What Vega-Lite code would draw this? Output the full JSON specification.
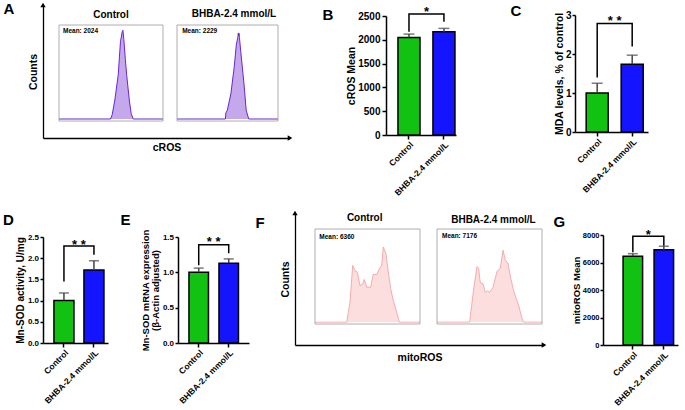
{
"$schema": "https://vega.github.io/schema/vega-lite/v6.json",
"padding": {"left": 2, "top": 1, "right": 2, "bottom": 0},
"config": {
  "font": "Liberation Sans",
  "view": {"stroke": null},
  "axis": {"grid": false, "labelOverlap": false, "tickCount": 12, "domainColor": "black", "domainWidth": 1.5, "tickColor": "black", "tickWidth": 1.5, "tickSize": 4, "labelColor": "black", "labelFontSize": 10, "labelFontWeight": "bold", "titleColor": "black", "titleFontSize": 10.5, "titleFontWeight": "bold", "labelPadding": 2, "titlePadding": 4},
  "axisX": {"labelFontSize": 8.5, "labelPadding": 1},
  "title": {"fontSize": 15, "fontWeight": "bold", "anchor": "start", "frame": "bounds", "color": "black"}
},
"datasets": {
  "histA1": [{"v":0.52,"n":0},{"v":288,"n":0},{"v":355,"n":20},{"v":490,"n":86},{"v":741,"n":200},{"v":977,"n":350},{"v":1202,"n":395},{"v":1318,"n":402},{"v":1479,"n":360},{"v":1778,"n":270},{"v":2089,"n":200},{"v":2884,"n":86},{"v":3631,"n":25},{"v":4677,"n":0},{"v":180000,"n":0}],
  "histA2": [{"v":0.52,"n":0},{"v":234,"n":0},{"v":250,"n":28},{"v":300,"n":40},{"v":468,"n":114},{"v":708,"n":233},{"v":933,"n":336},{"v":1122,"n":370},{"v":1202,"n":390},{"v":1260,"n":378},{"v":1318,"n":388},{"v":1380,"n":370},{"v":1622,"n":307},{"v":2455,"n":159},{"v":3236,"n":40},{"v":4467,"n":0},{"v":180000,"n":0}],
  "histF1": [{"v":-1700,"n":0},{"v":302,"n":0},{"v":488,"n":10},{"v":682,"n":28.3},{"v":885,"n":25.8},{"v":1129,"n":25},{"v":1479,"n":18.3},{"v":1916,"n":19},{"v":2222,"n":21.3},{"v":2768,"n":17.5},{"v":3947,"n":17.5},{"v":4935,"n":24},{"v":6600,"n":23.7},{"v":8220,"n":26.7},{"v":10060,"n":28.3},{"v":11480,"n":37.5},{"v":14360,"n":34},{"v":17380,"n":25},{"v":21170,"n":16.7},{"v":26160,"n":10.8},{"v":34580,"n":5},{"v":42710,"n":0},{"v":230000,"n":0}],
  "histF2": [{"v":-1700,"n":0},{"v":348,"n":0},{"v":605,"n":14},{"v":885,"n":23.6},{"v":1050,"n":22.9},{"v":1249,"n":16.7},{"v":1628,"n":16.3},{"v":2027,"n":12.6},{"v":2504,"n":13.3},{"v":2996,"n":12.6},{"v":4047,"n":14.7},{"v":5716,"n":21.6},{"v":7570,"n":22.9},{"v":9480,"n":30.5},{"v":11480,"n":26.3},{"v":14360,"n":25},{"v":17380,"n":19.5},{"v":22800,"n":13.3},{"v":28460,"n":9.9},{"v":34270,"n":7.2},{"v":45260,"n":1.6},{"v":51540,"n":0},{"v":230000,"n":0}],
  "barB": [{"group":"Control","mean":2050,"hi":2120},{"group":"BHBA-2.4 mmol/L","mean":2170,"hi":2240}],
  "brB": [{"group":"Control","v":2170,"o":1},{"group":"Control","v":2542,"o":2},{"group":"BHBA-2.4 mmol/L","v":2542,"o":3},{"group":"BHBA-2.4 mmol/L","v":2380,"o":4}],
  "stB": [{"group":"Control","v":2576,"label":"*"}],
  "barC": [{"group":"Control","mean":1.0,"hi":1.25},{"group":"BHBA-2.4 mmol/L","mean":1.74,"hi":1.97}],
  "brC": [{"group":"Control","v":1.4,"o":1},{"group":"Control","v":2.78,"o":2},{"group":"BHBA-2.4 mmol/L","v":2.78,"o":3},{"group":"BHBA-2.4 mmol/L","v":2.19,"o":4}],
  "stC": [{"group":"Control","v":2.84,"label":"* *"}],
  "barD": [{"group":"Control","mean":1.0,"hi":1.18},{"group":"BHBA-2.4 mmol/L","mean":1.72,"hi":1.94}],
  "brD": [{"group":"Control","v":1.45,"o":1},{"group":"Control","v":2.29,"o":2},{"group":"BHBA-2.4 mmol/L","v":2.29,"o":3},{"group":"BHBA-2.4 mmol/L","v":2.08,"o":4}],
  "stD": [{"group":"Control","v":2.31,"label":"* *"}],
  "barE": [{"group":"Control","mean":1.0,"hi":1.06},{"group":"BHBA-2.4 mmol/L","mean":1.13,"hi":1.19}],
  "brE": [{"group":"Control","v":1.1,"o":1},{"group":"Control","v":1.39,"o":2},{"group":"BHBA-2.4 mmol/L","v":1.39,"o":3},{"group":"BHBA-2.4 mmol/L","v":1.27,"o":4}],
  "stE": [{"group":"Control","v":1.43,"label":"* *"}],
  "barG": [{"group":"Control","mean":6450,"hi":6640},{"group":"BHBA-2.4 mmol/L","mean":6920,"hi":7180}],
  "brG": [{"group":"Control","v":6740,"o":1},{"group":"Control","v":7905,"o":2},{"group":"BHBA-2.4 mmol/L","v":7905,"o":3},{"group":"BHBA-2.4 mmol/L","v":7222,"o":4}],
  "stG": [{"group":"Control","v":8000,"label":"*"}]
},
"columns": 1,
"align": "none",
"spacing": 13,
"concat": [
{
 "columns": 2, "align": "none",
 "spacing": 29,
 "concat": [
  {
   "title": {"text": "A", "dx": -24.5, "offset": -14},
   "width": 247, "height": 133,
   "resolve": {"scale": {"x": "independent", "y": "independent"}, "axis": {"x": "independent", "y": "independent"}},
   "layer": [
    {
     "data": {"values": [{}]},
     "layer": [
      {"mark": {"type": "point", "shape": "triangle-up", "filled": true, "color": "black", "size": 28, "opacity": 1},
       "encoding": {
        "x": {"datum": 0, "type": "quantitative", "scale": {"domain": [0, 1], "nice": false, "zero": false}, "axis": {"orient": "bottom", "ticks": false, "labels": false, "domainWidth": 1.3, "title": "cROS", "titlePadding": 4}},
        "y": {"datum": 1, "type": "quantitative", "scale": {"domain": [0, 1], "nice": false, "zero": false}, "axis": {"orient": "left", "ticks": false, "labels": false, "domainWidth": 1.3, "title": "Counts", "titlePadding": 5}}
       }},
      {"mark": {"type": "point", "shape": "triangle-right", "filled": true, "color": "black", "size": 28, "opacity": 1},
       "encoding": {"x": {"datum": 1, "type": "quantitative"}, "y": {"datum": 0, "type": "quantitative"}}}
     ]
    },
    {
     "layer": [
      {"data": {"name": "histA1"},
       "mark": {"type": "area", "color": "#ad82e4", "line": {"color": "#6a26d4", "strokeWidth": 1}},
       "encoding": {
        "x": {"field": "v", "type": "quantitative", "scale": {"type": "log", "domain": [0.52, 180000], "range": [16, 120], "nice": false}, "axis": {"orient": "bottom", "offset": -17, "values": [1,10,100,1000,10000,100000], "tickCount": 12, "labelExpr": "datum.value == 1 ? '10⁰' : datum.value == 10 ? '10¹' : datum.value == 100 ? '10²' : datum.value == 1000 ? '10³' : datum.value == 10000 ? '10⁴' : '10⁵'", "labelOverlap": false, "labelFontSize": 5, "labelFontWeight": "normal", "labelColor": "#666", "tickSize": 2, "tickWidth": 0.6, "tickColor": "#777", "domain": false, "title": null, "labelPadding": 1}},
        "y": {"field": "n", "type": "quantitative", "scale": {"domain": [-9, 426], "range": [116, 20], "nice": false, "zero": false}, "axis": {"orient": "left", "offset": -16, "values": [0,100,200,300,400], "format": "d", "tickCount": 12, "labelOverlap": false, "labelFontSize": 5, "labelFontWeight": "normal", "labelColor": "#666", "tickSize": 2, "tickWidth": 0.6, "tickColor": "#777", "domain": false, "title": null, "labelPadding": 1}}
       }},
      {"data": {"values": [{}]},
       "mark": {"type": "rect", "fillOpacity": 0, "stroke": "#9a9a9a", "strokeWidth": 0.8},
       "encoding": {"x": {"datum": 0.52, "type": "quantitative", "axis": null}, "x2": {"datum": 180000}, "y": {"datum": -9, "type": "quantitative", "axis": null}, "y2": {"datum": 426}}},
      {"data": {"values": [{}]},
       "mark": {"type": "text", "text": "Mean: 2024", "fontSize": 6.5, "fontWeight": "bold", "align": "left", "baseline": "middle"},
       "encoding": {"x": {"datum": 0.85, "type": "quantitative", "axis": null}, "y": {"datum": 399, "type": "quantitative", "axis": null}}},
      {"data": {"values": [{}]},
       "mark": {"type": "text", "text": "Control", "fontSize": 10, "fontWeight": "bold", "align": "center", "baseline": "middle"},
       "encoding": {"x": {"datum": 305, "type": "quantitative", "axis": null}, "y": {"datum": 471, "type": "quantitative", "axis": null}}}
     ]
    },
    {
     "layer": [
      {"data": {"name": "histA2"},
       "mark": {"type": "area", "color": "#ad82e4", "line": {"color": "#6a26d4", "strokeWidth": 1}},
       "encoding": {
        "x": {"field": "v", "type": "quantitative", "scale": {"type": "log", "domain": [0.52, 180000], "range": [134, 235], "nice": false}, "axis": {"orient": "bottom", "offset": -17, "values": [1,10,100,1000,10000,100000], "tickCount": 12, "labelExpr": "datum.value == 1 ? '10⁰' : datum.value == 10 ? '10¹' : datum.value == 100 ? '10²' : datum.value == 1000 ? '10³' : datum.value == 10000 ? '10⁴' : '10⁵'", "labelOverlap": false, "labelFontSize": 5, "labelFontWeight": "normal", "labelColor": "#666", "tickSize": 2, "tickWidth": 0.6, "tickColor": "#777", "domain": false, "title": null, "labelPadding": 1}},
        "y": {"field": "n", "type": "quantitative", "scale": {"domain": [-9, 426], "range": [116, 20], "nice": false, "zero": false}, "axis": {"orient": "left", "offset": -134, "values": [0,100,200,300,400], "format": "d", "tickCount": 12, "labelOverlap": false, "labelFontSize": 5, "labelFontWeight": "normal", "labelColor": "#666", "tickSize": 2, "tickWidth": 0.6, "tickColor": "#777", "domain": false, "title": null, "labelPadding": 1}}
       }},
      {"data": {"values": [{}]},
       "mark": {"type": "rect", "fillOpacity": 0, "stroke": "#9a9a9a", "strokeWidth": 0.8},
       "encoding": {"x": {"datum": 0.52, "type": "quantitative", "axis": null}, "x2": {"datum": 180000}, "y": {"datum": -9, "type": "quantitative", "axis": null}, "y2": {"datum": 426}}},
      {"data": {"values": [{}]},
       "mark": {"type": "text", "text": "Mean: 2229", "fontSize": 6.5, "fontWeight": "bold", "align": "left", "baseline": "middle"},
       "encoding": {"x": {"datum": 1.0, "type": "quantitative", "axis": null}, "y": {"datum": 399, "type": "quantitative", "axis": null}}},
      {"data": {"values": [{}]},
       "mark": {"type": "text", "text": "BHBA-2.4 mmol/L", "fontSize": 10, "fontWeight": "bold", "align": "center", "baseline": "middle"},
       "encoding": {"x": {"datum": 690, "type": "quantitative", "axis": null}, "y": {"datum": 476, "type": "quantitative", "axis": null}}}
     ]
    }
   ]
  },
  {
   "columns": 2, "align": "none",
   "spacing": 54,
   "concat": [
    {
     "title": {"text": "B", "dx": -24.3, "offset": -18},
     "width": 70, "height": 130,
     "layer": [
      {"data": {"name": "barB"}, "mark": {"type": "bar", "stroke": "black", "strokeWidth": 1.5},
       "encoding": {
        "x": {"field": "group", "type": "nominal", "sort": ["Control", "BHBA-2.4 mmol/L"], "scale": {"paddingInner": 0.37, "paddingOuter": 0.186, "align": 0.92}, "axis": {"title": null, "labelAngle": -45, "labelAlign": "right", "labelBaseline": "top"}},
        "y": {"field": "mean", "type": "quantitative", "scale": {"domain": [0, 2500], "range": [130, 11], "nice": false}, "axis": {"title": "cROS Mean", "titlePadding": 1, "values": [0, 500, 1000, 1500, 2000, 2500], "tickCount": 12, "labelOverlap": false, "format": "d"}},
        "fill": {"field": "group", "type": "nominal", "scale": {"domain": ["Control", "BHBA-2.4 mmol/L"], "range": ["#12c212", "#1414ff"]}, "legend": null}
       }},
      {"data": {"name": "barB"}, "mark": {"type": "rule", "color": "#444", "strokeWidth": 1.5},
       "encoding": {"x": {"field": "group", "type": "nominal", "sort": ["Control", "BHBA-2.4 mmol/L"]}, "y": {"field": "mean", "type": "quantitative"}, "y2": {"field": "hi"}}},
      {"data": {"name": "barB"}, "mark": {"type": "tick", "color": "#444", "thickness": 1.5, "size": 11},
       "encoding": {"x": {"field": "group", "type": "nominal", "sort": ["Control", "BHBA-2.4 mmol/L"]}, "y": {"field": "hi", "type": "quantitative"}}},
      {"data": {"name": "brB"}, "mark": {"type": "line", "color": "black", "strokeWidth": 1.5, "clip": false},
       "encoding": {"x": {"field": "group", "type": "nominal", "sort": ["Control", "BHBA-2.4 mmol/L"]}, "y": {"field": "v", "type": "quantitative"}, "order": {"field": "o", "type": "quantitative"}}},
      {"data": {"name": "stB"}, "mark": {"type": "text", "fontSize": 13, "fontWeight": "bold", "dx": 17.5, "baseline": "middle", "clip": false},
       "encoding": {"x": {"field": "group", "type": "nominal", "sort": ["Control", "BHBA-2.4 mmol/L"]}, "y": {"field": "v", "type": "quantitative"}, "text": {"field": "label"}}}
     ]
    },
    {
     "title": {"text": "C", "dx": -44, "offset": -14},
     "width": 73, "height": 127,
     "layer": [
      {"data": {"name": "barC"}, "mark": {"type": "bar", "stroke": "black", "strokeWidth": 1.5},
       "encoding": {
        "x": {"field": "group", "type": "nominal", "sort": ["Control", "BHBA-2.4 mmol/L"], "scale": {"paddingInner": 0.37, "paddingOuter": 0.228, "align": 0.7}, "axis": {"title": null, "labelAngle": -45, "labelAlign": "right", "labelBaseline": "top"}},
        "y": {"field": "mean", "type": "quantitative", "scale": {"domain": [0, 3], "range": [127, 10], "nice": false}, "axis": {"title": "MDA levels, % of control", "titlePadding": 1, "tickSize": 3, "labelPadding": 1, "values": [0, 1, 2, 3], "format": "d", "tickCount": 12, "labelOverlap": false}},
        "fill": {"field": "group", "type": "nominal", "scale": {"domain": ["Control", "BHBA-2.4 mmol/L"], "range": ["#12c212", "#1414ff"]}, "legend": null}
       }},
      {"data": {"name": "barC"}, "mark": {"type": "rule", "color": "#444", "strokeWidth": 1.5},
       "encoding": {"x": {"field": "group", "type": "nominal", "sort": ["Control", "BHBA-2.4 mmol/L"]}, "y": {"field": "mean", "type": "quantitative"}, "y2": {"field": "hi"}}},
      {"data": {"name": "barC"}, "mark": {"type": "tick", "color": "#444", "thickness": 1.5, "size": 11},
       "encoding": {"x": {"field": "group", "type": "nominal", "sort": ["Control", "BHBA-2.4 mmol/L"]}, "y": {"field": "hi", "type": "quantitative"}}},
      {"data": {"name": "brC"}, "mark": {"type": "line", "color": "black", "strokeWidth": 1.5, "clip": false},
       "encoding": {"x": {"field": "group", "type": "nominal", "sort": ["Control", "BHBA-2.4 mmol/L"]}, "y": {"field": "v", "type": "quantitative"}, "order": {"field": "o", "type": "quantitative"}}},
      {"data": {"name": "stC"}, "mark": {"type": "text", "fontSize": 13, "fontWeight": "bold", "dx": 17.5, "baseline": "middle", "clip": false},
       "encoding": {"x": {"field": "group", "type": "nominal", "sort": ["Control", "BHBA-2.4 mmol/L"]}, "y": {"field": "v", "type": "quantitative"}, "text": {"field": "label"}}}
     ]
    }
   ]
  }
 ]
},
{
 "columns": 2, "align": "none",
 "spacing": 12,
 "concat": [
  {
   "title": {"text": "D", "dx": -12.4, "offset": -15},
   "width": 65, "height": 130,
   "layer": [
    {"data": {"name": "barD"}, "mark": {"type": "bar", "stroke": "black", "strokeWidth": 1.5},
     "encoding": {
      "x": {"field": "group", "type": "nominal", "sort": ["Control", "BHBA-2.4 mmol/L"], "scale": {"paddingInner": 0.333, "paddingOuter": 0.25, "align": 0.73}, "axis": {"title": null, "labelAngle": -45, "labelAlign": "right", "labelBaseline": "top"}},
      "y": {"field": "mean", "type": "quantitative", "scale": {"domain": [0, 2.5], "range": [130, 24], "nice": false}, "axis": {"title": "Mn-SOD activity, U/mg", "titleFontSize": 10, "titlePadding": 2, "labelFontSize": 8, "tickSize": 3, "labelPadding": 1.5, "values": [0, 0.5, 1, 1.5, 2, 2.5], "tickCount": 12, "labelOverlap": false, "format": ".1f"}},
      "fill": {"field": "group", "type": "nominal", "scale": {"domain": ["Control", "BHBA-2.4 mmol/L"], "range": ["#12c212", "#1414ff"]}, "legend": null}
     }},
    {"data": {"name": "barD"}, "mark": {"type": "rule", "color": "#444", "strokeWidth": 1.5},
     "encoding": {"x": {"field": "group", "type": "nominal", "sort": ["Control", "BHBA-2.4 mmol/L"]}, "y": {"field": "mean", "type": "quantitative"}, "y2": {"field": "hi"}}},
    {"data": {"name": "barD"}, "mark": {"type": "tick", "color": "#444", "thickness": 1.5, "size": 10},
     "encoding": {"x": {"field": "group", "type": "nominal", "sort": ["Control", "BHBA-2.4 mmol/L"]}, "y": {"field": "hi", "type": "quantitative"}}},
    {"data": {"name": "brD"}, "mark": {"type": "line", "color": "black", "strokeWidth": 1.5, "clip": false},
     "encoding": {"x": {"field": "group", "type": "nominal", "sort": ["Control", "BHBA-2.4 mmol/L"]}, "y": {"field": "v", "type": "quantitative"}, "order": {"field": "o", "type": "quantitative"}}},
    {"data": {"name": "stD"}, "mark": {"type": "text", "fontSize": 13, "fontWeight": "bold", "dx": 15, "baseline": "middle", "clip": false},
     "encoding": {"x": {"field": "group", "type": "nominal", "sort": ["Control", "BHBA-2.4 mmol/L"]}, "y": {"field": "v", "type": "quantitative"}, "text": {"field": "label"}}}
   ]
  },
  {
   "columns": 3, "align": "none",
   "spacing": 6,
   "concat": [
    {
     "title": {"text": "E", "dx": -20, "offset": -15},
     "width": 71, "height": 130,
     "layer": [
      {"data": {"name": "barE"}, "mark": {"type": "bar", "stroke": "black", "strokeWidth": 1.5},
       "encoding": {
        "x": {"field": "group", "type": "nominal", "sort": ["Control", "BHBA-2.4 mmol/L"], "scale": {"paddingInner": 0.35, "paddingOuter": 0.358, "align": 0.51}, "axis": {"title": null, "labelAngle": -45, "labelAlign": "right", "labelBaseline": "top"}},
        "y": {"field": "mean", "type": "quantitative", "scale": {"domain": [0, 1.5], "range": [130, 24], "nice": false}, "axis": {"title": ["Mn-SOD mRNA expression", "(β-Actin adjusted)"], "titleFontSize": 9.5, "titleLineHeight": 10, "titlePadding": 2, "labelFontSize": 8, "tickSize": 3, "labelPadding": 1.5, "values": [0, 0.5, 1, 1.5], "tickCount": 12, "labelOverlap": false, "format": ".1f"}},
        "fill": {"field": "group", "type": "nominal", "scale": {"domain": ["Control", "BHBA-2.4 mmol/L"], "range": ["#12c212", "#1414ff"]}, "legend": null}
       }},
      {"data": {"name": "barE"}, "mark": {"type": "rule", "color": "#444", "strokeWidth": 1.5},
       "encoding": {"x": {"field": "group", "type": "nominal", "sort": ["Control", "BHBA-2.4 mmol/L"]}, "y": {"field": "mean", "type": "quantitative"}, "y2": {"field": "hi"}}},
      {"data": {"name": "barE"}, "mark": {"type": "tick", "color": "#444", "thickness": 1.5, "size": 10},
       "encoding": {"x": {"field": "group", "type": "nominal", "sort": ["Control", "BHBA-2.4 mmol/L"]}, "y": {"field": "hi", "type": "quantitative"}}},
      {"data": {"name": "brE"}, "mark": {"type": "line", "color": "black", "strokeWidth": 1.5, "clip": false},
       "encoding": {"x": {"field": "group", "type": "nominal", "sort": ["Control", "BHBA-2.4 mmol/L"]}, "y": {"field": "v", "type": "quantitative"}, "order": {"field": "o", "type": "quantitative"}}},
      {"data": {"name": "stE"}, "mark": {"type": "text", "fontSize": 13, "fontWeight": "bold", "dx": 15, "baseline": "middle", "clip": false},
       "encoding": {"x": {"field": "group", "type": "nominal", "sort": ["Control", "BHBA-2.4 mmol/L"]}, "y": {"field": "v", "type": "quantitative"}, "text": {"field": "label"}}}
     ]
    },
    {
     "title": {"text": "F", "dx": -24.5, "offset": -20},
     "width": 249, "height": 132,
     "resolve": {"scale": {"x": "independent", "y": "independent"}, "axis": {"x": "independent", "y": "independent"}},
     "layer": [
      {
       "data": {"values": [{}]},
       "layer": [
        {"mark": {"type": "point", "shape": "triangle-up", "filled": true, "color": "black", "size": 28, "opacity": 1},
         "encoding": {
          "x": {"datum": 0, "type": "quantitative", "scale": {"domain": [0, 1], "nice": false, "zero": false}, "axis": {"orient": "bottom", "ticks": false, "labels": false, "domainWidth": 1.3, "title": "mitoROS", "titlePadding": 7}},
          "y": {"datum": 1, "type": "quantitative", "scale": {"domain": [0, 1], "nice": false, "zero": false}, "axis": {"orient": "left", "ticks": false, "labels": false, "domainWidth": 1.3, "title": "Counts", "titlePadding": 5}}
         }},
        {"mark": {"type": "point", "shape": "triangle-right", "filled": true, "color": "black", "size": 28, "opacity": 1},
         "encoding": {"x": {"datum": 1, "type": "quantitative"}, "y": {"datum": 0, "type": "quantitative"}}}
       ]
      },
      {
       "layer": [
        {"data": {"name": "histF1"},
         "mark": {"type": "area", "color": "#fcd0d1", "line": {"color": "#f29b9b", "strokeWidth": 0.8}},
         "encoding": {
          "x": {"field": "v", "type": "quantitative", "scale": {"type": "symlog", "constant": 306, "domain": [-1700, 230000], "range": [20, 125], "nice": false}, "axis": {"orient": "bottom", "offset": -21, "values": [-1000, 0, 1000, 10000, 100000], "tickCount": 12, "labelExpr": "datum.value < 0 ? '-10³' : datum.value == 0 ? '0' : datum.value == 1000 ? '10³' : datum.value == 10000 ? '10⁴' : '10⁵'", "labelOverlap": false, "labelFontSize": 5, "labelFontWeight": "normal", "labelColor": "#666", "tickSize": 2, "tickWidth": 0.6, "tickColor": "#777", "domain": false, "title": null, "labelPadding": 1}},
          "y": {"field": "n", "type": "quantitative", "scale": {"domain": [-0.9, 46.5], "range": [111, 16], "nice": false, "zero": false}, "axis": {"orient": "left", "offset": -20, "values": [0, 10, 20, 30, 40], "format": "d", "tickCount": 12, "labelOverlap": false, "labelFontSize": 5, "labelFontWeight": "normal", "labelColor": "#666", "tickSize": 2, "tickWidth": 0.6, "tickColor": "#777", "domain": false, "title": null, "labelPadding": 1}}
         }},
        {"data": {"values": [{}]},
         "mark": {"type": "rect", "fillOpacity": 0, "stroke": "#9a9a9a", "strokeWidth": 0.8},
         "encoding": {"x": {"datum": -1700, "type": "quantitative", "axis": null}, "x2": {"datum": 230000}, "y": {"datum": -0.9, "type": "quantitative", "axis": null}, "y2": {"datum": 46.5}}},
        {"data": {"values": [{}]},
         "mark": {"type": "text", "text": "Mean: 6360", "fontSize": 6.5, "fontWeight": "bold", "align": "left", "baseline": "middle"},
         "encoding": {"x": {"datum": -1108, "type": "quantitative", "axis": null}, "y": {"datum": 42.5, "type": "quantitative", "axis": null}}},
        {"data": {"values": [{}]},
         "mark": {"type": "text", "text": "Control", "fontSize": 10, "fontWeight": "bold", "align": "center", "baseline": "middle"},
         "encoding": {"x": {"datum": 2300, "type": "quantitative", "axis": null}, "y": {"datum": 52, "type": "quantitative", "axis": null}}}
       ]
      },
      {
       "layer": [
        {"data": {"name": "histF2"},
         "mark": {"type": "area", "color": "#fcd0d1", "line": {"color": "#f29b9b", "strokeWidth": 0.8}},
         "encoding": {
          "x": {"field": "v", "type": "quantitative", "scale": {"type": "symlog", "constant": 306, "domain": [-1700, 230000], "range": [142, 247], "nice": false}, "axis": {"orient": "bottom", "offset": -21, "values": [-1000, 0, 1000, 10000, 100000], "tickCount": 12, "labelExpr": "datum.value < 0 ? '-10³' : datum.value == 0 ? '0' : datum.value == 1000 ? '10³' : datum.value == 10000 ? '10⁴' : '10⁵'", "labelOverlap": false, "labelFontSize": 5, "labelFontWeight": "normal", "labelColor": "#666", "tickSize": 2, "tickWidth": 0.6, "tickColor": "#777", "domain": false, "title": null, "labelPadding": 1}},
          "y": {"field": "n", "type": "quantitative", "scale": {"domain": [-0.8, 39.5], "range": [111, 16], "nice": false, "zero": false}, "axis": {"orient": "left", "offset": -142, "values": [0, 10, 20, 30], "format": "d", "tickCount": 12, "labelOverlap": false, "labelFontSize": 5, "labelFontWeight": "normal", "labelColor": "#666", "tickSize": 2, "tickWidth": 0.6, "tickColor": "#777", "domain": false, "title": null, "labelPadding": 1}}
         }},
        {"data": {"values": [{}]},
         "mark": {"type": "rect", "fillOpacity": 0, "stroke": "#9a9a9a", "strokeWidth": 0.8},
         "encoding": {"x": {"datum": -1700, "type": "quantitative", "axis": null}, "x2": {"datum": 230000}, "y": {"datum": -0.8, "type": "quantitative", "axis": null}, "y2": {"datum": 39.5}}},
        {"data": {"values": [{}]},
         "mark": {"type": "text", "text": "Mean: 7176", "fontSize": 6.5, "fontWeight": "bold", "align": "left", "baseline": "middle"},
         "encoding": {"x": {"datum": -1033, "type": "quantitative", "axis": null}, "y": {"datum": 36.4, "type": "quantitative", "axis": null}}},
        {"data": {"values": [{}]},
         "mark": {"type": "text", "text": "BHBA-2.4 mmol/L", "fontSize": 10, "fontWeight": "bold", "align": "center", "baseline": "middle"},
         "encoding": {"x": {"datum": 4200, "type": "quantitative", "axis": null}, "y": {"datum": 43.3, "type": "quantitative", "axis": null}}}
       ]
      }
     ]
    },
    {
     "title": {"text": "G", "dx": -17.8, "offset": -17},
     "width": 75, "height": 132,
     "layer": [
      {"data": {"name": "barG"}, "mark": {"type": "bar", "stroke": "black", "strokeWidth": 1.5},
       "encoding": {
        "x": {"field": "group", "type": "nominal", "sort": ["Control", "BHBA-2.4 mmol/L"], "scale": {"paddingInner": 0.37, "paddingOuter": 0.395, "align": 0.82}, "axis": {"title": null, "labelAngle": -45, "labelAlign": "right", "labelBaseline": "top"}},
        "y": {"field": "mean", "type": "quantitative", "scale": {"domain": [0, 8000], "range": [132, 22], "nice": false}, "axis": {"title": "mitoROS Mean", "titleFontSize": 9.5, "titlePadding": 1, "labelFontSize": 7.5, "tickSize": 3, "labelPadding": 1, "values": [0, 2000, 4000, 6000, 8000], "tickCount": 12, "labelOverlap": false, "format": "d"}},
        "fill": {"field": "group", "type": "nominal", "scale": {"domain": ["Control", "BHBA-2.4 mmol/L"], "range": ["#12c212", "#1414ff"]}, "legend": null}
       }},
      {"data": {"name": "barG"}, "mark": {"type": "rule", "color": "#444", "strokeWidth": 1.5},
       "encoding": {"x": {"field": "group", "type": "nominal", "sort": ["Control", "BHBA-2.4 mmol/L"]}, "y": {"field": "mean", "type": "quantitative"}, "y2": {"field": "hi"}}},
      {"data": {"name": "barG"}, "mark": {"type": "tick", "color": "#444", "thickness": 1.5, "size": 10},
       "encoding": {"x": {"field": "group", "type": "nominal", "sort": ["Control", "BHBA-2.4 mmol/L"]}, "y": {"field": "hi", "type": "quantitative"}}},
      {"data": {"name": "brG"}, "mark": {"type": "line", "color": "black", "strokeWidth": 1.5, "clip": false},
       "encoding": {"x": {"field": "group", "type": "nominal", "sort": ["Control", "BHBA-2.4 mmol/L"]}, "y": {"field": "v", "type": "quantitative"}, "order": {"field": "o", "type": "quantitative"}}},
      {"data": {"name": "stG"}, "mark": {"type": "text", "fontSize": 13, "fontWeight": "bold", "dx": 15.5, "baseline": "middle", "clip": false},
       "encoding": {"x": {"field": "group", "type": "nominal", "sort": ["Control", "BHBA-2.4 mmol/L"]}, "y": {"field": "v", "type": "quantitative"}, "text": {"field": "label"}}}
     ]
    }
   ]
  }
 ]
}
]
}
